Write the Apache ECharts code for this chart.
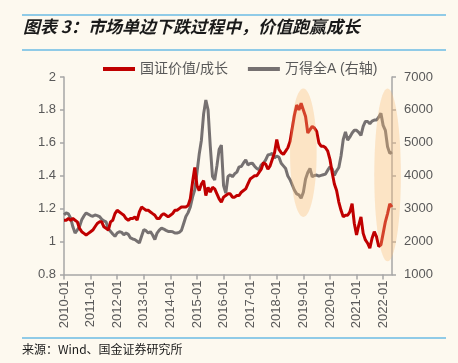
<!DOCTYPE html>
<html>
<head>
<meta charset="utf-8">
<script src="https://cdn.jsdelivr.net/npm/echarts@6/dist/echarts.min.js"></script>
<style>
html,body{margin:0;padding:0;background:#fdf9ef;}
#c{width:458px;height:363px;}
</style>
</head>
<body>
<div id="c"></div>
<script>
// ---- data ----
const startYear = 2010, startMonth = 1, endYear = 2022, endMonth = 5;
const categories = [];
for (let y = startYear; y <= endYear; y++) {
  for (let m = 1; m <= 12; m++) {
    if (y === endYear && m > endMonth) break;
    categories.push(y + '-' + (m < 10 ? '0' + m : m));
  }
}
const valueGrowth = [
  1.13,1.13,1.14,1.13,1.14,1.13,1.12,1.08,1.06,1.05,1.04,1.05,
  1.06,1.07,1.09,1.11,1.12,1.12,1.09,1.08,1.07,1.12,1.13,1.17,
  1.19,1.18,1.17,1.16,1.14,1.13,1.14,1.14,1.15,1.13,1.18,1.21,
  1.20,1.19,1.19,1.18,1.17,1.16,1.14,1.14,1.16,1.17,1.16,1.15,
  1.16,1.17,1.19,1.19,1.20,1.21,1.21,1.21,1.22,1.26,1.36,1.45,
  1.34,1.31,1.35,1.37,1.28,1.33,1.30,1.33,1.32,1.29,1.26,1.24,
  1.27,1.28,1.29,1.29,1.27,1.27,1.28,1.28,1.30,1.31,1.32,1.35,
  1.38,1.39,1.40,1.40,1.42,1.44,1.48,1.47,1.44,1.46,1.50,1.54,
  1.62,1.56,1.54,1.53,1.55,1.57,1.61,1.69,1.77,1.83,1.80,1.84,
  1.80,1.76,1.66,1.68,1.70,1.69,1.67,1.60,1.58,1.58,1.57,1.55,
  1.50,1.42,1.35,1.31,1.24,1.19,1.15,1.16,1.16,1.18,1.23,1.11,
  1.04,1.10,1.15,1.05,1.01,0.99,0.96,1.02,1.06,1.03,0.97,0.98,
  1.05,1.12,1.17,1.23,1.21
];
const windA = [
  2810,2870,2840,2710,2450,2260,2350,2460,2660,2780,2870,2830,
  2790,2770,2810,2790,2760,2680,2630,2600,2380,2310,2230,2160,
  2260,2300,2280,2210,2260,2220,2110,2080,2060,2010,1960,2160,
  2360,2330,2260,2300,2200,2060,2260,2350,2410,2380,2340,2310,
  2310,2300,2260,2260,2280,2340,2550,2760,2880,3050,3350,3570,
  4100,4650,5080,5880,6300,6000,4900,3980,3870,4300,4800,4930,
  3700,3470,3980,4030,3970,4060,4110,4270,4280,4390,4480,4330,
  4370,4380,4290,4220,4180,4330,4380,4480,4630,4650,4680,4540,
  4600,4560,4380,4300,4220,3990,3880,3720,3560,3450,3420,3320,
  3500,3900,4100,4220,3970,4010,4020,3990,4010,4030,4050,4170,
  4270,4210,4010,4150,4250,4600,5100,5330,5080,5180,5300,5380,
  5380,5320,5230,5500,5650,5650,5580,5660,5690,5690,5780,5900,
  5530,5380,4880,4680,4720
];
const leftTicks = { min: 0.8, max: 2, step: 0.2 };
const rightTicks = { min: 1000, max: 7000, step: 1000 };
const seriesNames = ['国证价值/成长', '万得全A (右轴)'];
// highlighted periods (category center, month half-span, left-axis value top/bottom)
const hlCenter = ['2019-01', '2022-03'];
const hlHalfMonths = [6, 6];
const hlTop = [1.93, 1.93];
const hlBottom = [1.15, 0.88];

const titleText = '图表 3：市场单边下跌过程中，价值跑赢成长';
const sourceText = '来源：Wind、国金证券研究所';

// ---- chart ----
const chart = echarts.init(document.getElementById('c'), null, { renderer: 'canvas' });
const axisGray = '#a6a6a6';
const labelGray = '#595959';
const font = 'Liberation Sans, Noto Sans CJK SC, sans-serif';
const isJan = (i, v) => String(v).endsWith('-01');

const option = {
  backgroundColor: '#fdf9ef',
  animation: false,
  grid: { left: 64, right: 66, top: 77, bottom: 88.5, containLabel: false },
  legend: {
    top: 57, left: 98, itemWidth: 32, itemHeight: 4, itemGap: 20, icon: 'rect',
    textStyle: { color: labelGray, fontSize: 14, fontFamily: font },
    data: seriesNames
  },
  xAxis: {
    type: 'category', data: categories, boundaryGap: false,
    axisLine: { lineStyle: { color: axisGray, width: 1.5 } },
    axisTick: { show: true, interval: isJan, length: 5, lineStyle: { color: axisGray, width: 1.5 } },
    axisLabel: { interval: isJan, rotate: 90, color: labelGray, fontSize: 13, fontFamily: font, margin: 6 },
    splitLine: { show: false }
  },
  yAxis: [
    {
      type: 'value', min: leftTicks.min, max: leftTicks.max, interval: leftTicks.step,
      axisLine: { show: true, lineStyle: { color: axisGray, width: 1.5 } },
      axisTick: { show: true, length: 4, lineStyle: { color: axisGray, width: 1.5 } },
      axisLabel: { color: labelGray, fontSize: 13, fontFamily: font, margin: 8,
        formatter: v => String(Math.round(v * 10) / 10) },
      splitLine: { show: false }
    },
    {
      type: 'value', min: rightTicks.min, max: rightTicks.max, interval: rightTicks.step,
      position: 'right',
      axisLine: { show: true, lineStyle: { color: axisGray, width: 1.5 } },
      axisTick: { show: true, length: 4, lineStyle: { color: axisGray, width: 1.5 } },
      axisLabel: { color: labelGray, fontSize: 13, fontFamily: font, margin: 12,
        formatter: v => String(Math.round(v)) },
      splitLine: { show: false }
    }
  ],
  series: [
    { name: seriesNames[0], type: 'line', data: valueGrowth, yAxisIndex: 0, showSymbol: false,
      symbol: 'none', lineStyle: { color: '#c00000', width: 3 }, itemStyle: { color: '#c00000' }, z: 3 },
    { name: seriesNames[1], type: 'line', data: windA, yAxisIndex: 1, showSymbol: false,
      symbol: 'none', lineStyle: { color: '#767171', width: 3 }, itemStyle: { color: '#767171' }, z: 2 }
  ],
  graphic: []
};
chart.setOption(option);

function decorations() {
  const g = [];
  const lineColor = '#6bbbe4';
  [15, 50, 338].forEach(y => g.push({ type: 'line', shape: { x1: 22, y1: y, x2: 446, y2: y },
    style: { stroke: lineColor, lineWidth: 1.5 }, silent: true }));
  g.push({ type: 'text', left: 23, top: 18, style: { text: titleText, fill: '#1a1a1a',
    font: 'italic bold 17px "Noto Sans CJK SC", sans-serif' } });
  g.push({ type: 'text', left: 22, top: 343, style: { text: sourceText, fill: '#1a1a1a',
    font: '12px "Noto Sans CJK SC", sans-serif' } });
  for (let i = 0; i < hlCenter.length; i++) {
    const ci = categories.indexOf(hlCenter[i]);
    const pc = chart.convertToPixel({ xAxisIndex: 0, yAxisIndex: 0 }, [ci, hlTop[i]]);
    const pb = chart.convertToPixel({ xAxisIndex: 0, yAxisIndex: 0 }, [ci, hlBottom[i]]);
    const pl = chart.convertToPixel({ xAxisIndex: 0, yAxisIndex: 0 }, [ci - hlHalfMonths[i], hlTop[i]]);
    const rx = pc[0] - pl[0];
    g.push({ type: 'ellipse', z: 100, silent: true,
      shape: { cx: pc[0], cy: (pc[1] + pb[1]) / 2, rx: rx, ry: (pb[1] - pc[1]) / 2 },
      style: { fill: 'rgba(250,190,120,0.35)' } });
  }
  chart.setOption({ graphic: g });
}
decorations();
</script>
</body>
</html>
